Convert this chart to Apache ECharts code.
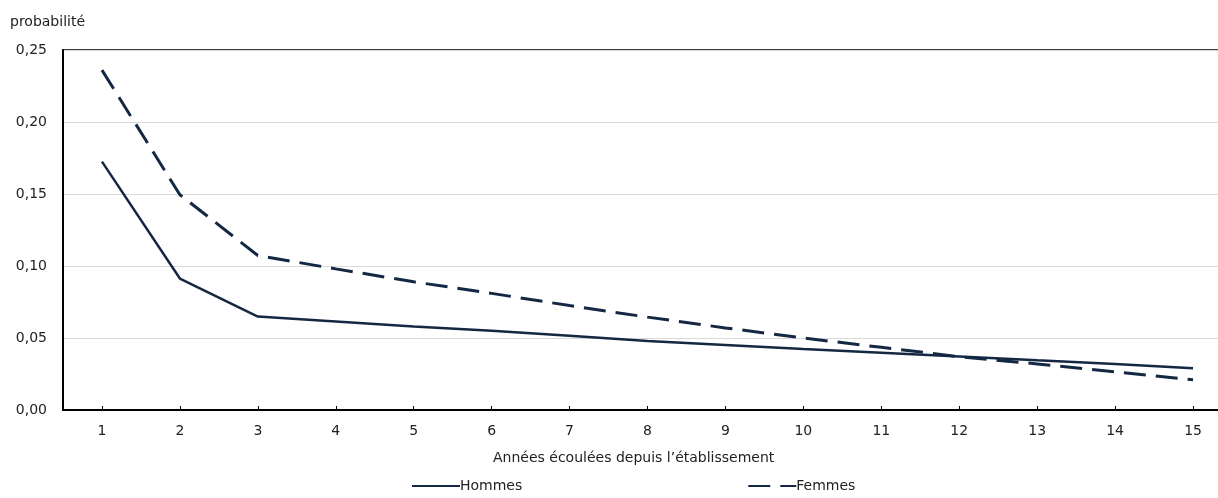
<!DOCTYPE html>
<html>
<head>
<meta charset="utf-8">
<script src="https://cdn.jsdelivr.net/npm/echarts@6/dist/echarts.min.js"></script>
<style>html,body{margin:0;padding:0;background:#fff;}#c{width:1218px;height:498px;}</style>
</head>
<body>
<div id="c"></div>
<script>
const categories = ['1','2','3','4','5','6','7','8','9','10','11','12','13','14','15'];
const hommes = [0.1725, 0.0913, 0.0649, 0.0615, 0.058, 0.055, 0.0515, 0.048, 0.0452, 0.0424, 0.0398, 0.0372, 0.0345, 0.032, 0.029];
const femmes = [0.236, 0.1495, 0.1073, 0.098, 0.089, 0.081, 0.0725, 0.0645, 0.057, 0.050, 0.0435, 0.037, 0.032, 0.0265, 0.021];
const yTicks = [0, 0.05, 0.10, 0.15, 0.20, 0.25];
const yTitle = 'probabilité';
const xTitle = 'Années écoulées depuis l’établissement';
const seriesNames = ['Hommes', 'Femmes'];

const FONT = 'DejaVu Sans';
const FS = 14;
const COL = '#142843';
const chart = echarts.init(document.getElementById('c'), null, {renderer: 'canvas'});
chart.setOption({
  animation: false,
  backgroundColor: '#fff',
  textStyle: {fontFamily: FONT},
  title: [
    {text: yTitle, left: 5, top: 10, textStyle: {fontFamily: FONT, fontSize: FS, fontWeight: 'normal', color: '#222'}},
    {text: xTitle, left: 488, top: 446, textStyle: {fontFamily: FONT, fontSize: FS, fontWeight: 'normal', color: '#222'}}
  ],
  legend: {
    left: 406, top: 474,
    itemWidth: 48, itemHeight: 12, itemGap: 225,
    itemStyle: {opacity: 0},
    textStyle: {fontFamily: FONT, fontSize: FS, color: '#222', padding: [0,0,0,-5]},
    data: seriesNames
  },
  grid: {left: 63, width: 1169, top: 50, height: 360, outerBoundsMode: 'none', containLabel: false,
    show: true, borderColor: '#000', borderWidth: 1.5, backgroundColor: 'transparent'},
  xAxis: {
    type: 'category', data: categories, boundaryGap: true,
    axisLine: {show: true, lineStyle: {color: '#000', width: 2}},
    axisTick: {show: true, alignWithLabel: true, inside: true, length: 4, lineStyle: {color: '#000'}},
    axisLabel: {fontFamily: FONT, fontSize: FS, color: '#222', margin: 14},
    splitLine: {show: false}
  },
  yAxis: {
    type: 'value', min: 0, max: 0.25, interval: 0.05,
    axisLine: {show: true, lineStyle: {color: '#000', width: 2}},
    axisTick: {show: false},
    axisLabel: {fontFamily: FONT, fontSize: FS, color: '#222', margin: 16,
      formatter: v => { const t = yTicks.find(x => Math.abs(x - v) < 1e-9); return (t !== undefined ? t : v).toFixed(2).replace('.', ','); }},
    splitLine: {show: true, lineStyle: {color: '#d9d9d9', width: 1}}
  },
  series: [
    {name: seriesNames[0], type: 'line', data: hommes, symbol: 'none', lineStyle: {color: COL, width: 2.5}, itemStyle: {color: COL}},
    {name: seriesNames[1], type: 'line', data: femmes, symbol: 'none', lineStyle: {color: COL, width: 3, type: [22, 10]}, itemStyle: {color: COL}}
  ]
});
</script>
</body>
</html>
